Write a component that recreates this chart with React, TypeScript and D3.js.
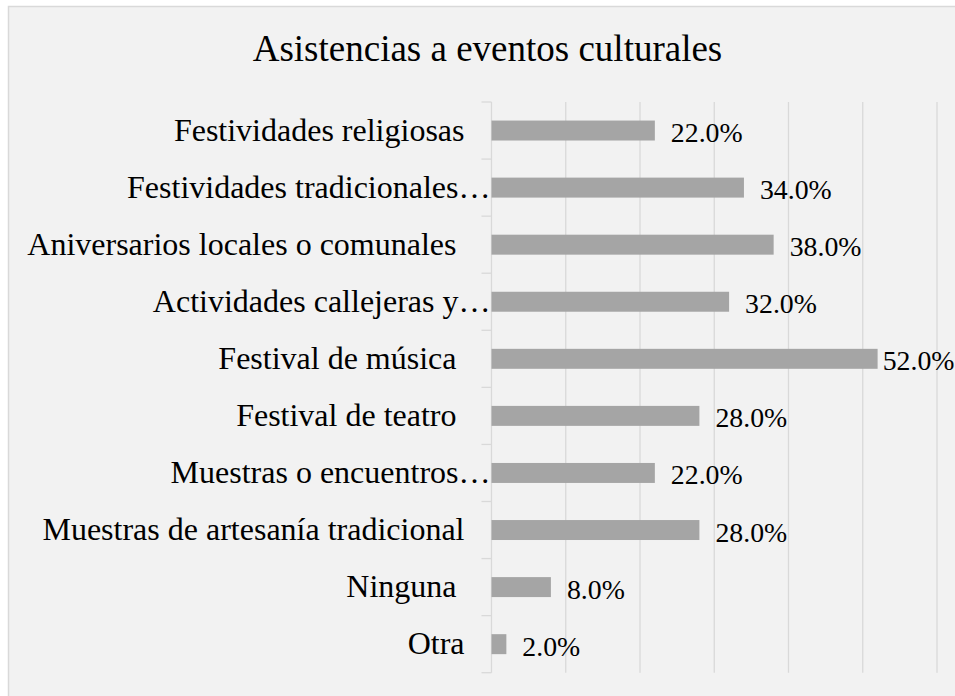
import React from "react";
import * as d3 from "d3";

const title = "Asistencias a eventos culturales";
const categories = [
  "Festividades religiosas",
  "Festividades tradicionales…",
  "Aniversarios locales o comunales ",
  "Actividades callejeras y…",
  "Festival de música ",
  "Festival de teatro ",
  "Muestras o encuentros…",
  "Muestras de artesanía tradicional",
  "Ninguna ",
  "Otra",
];
const values = [22, 34, 38, 32, 52, 28, 22, 28, 8, 2];
const gridTicks = [0, 10, 20, 30, 40, 50, 60];

export default function App() {
  const W = 955;
  const H = 696;
  const plotLeft = 491.5;
  const plotRight = 937;
  const plotTop = 102;
  const plotBottom = 672.7;
  const x = d3.scaleLinear().domain([0, 60]).range([plotLeft, plotRight]);
  const y = d3
    .scaleBand<string>()
    .domain(categories)
    .range([plotTop, plotBottom])
    .paddingInner(0.65)
    .paddingOuter(0.325);
  const step = (plotBottom - plotTop) / categories.length;
  const catFont = 32;
  const valFont = 27.8;
  const font = "'Liberation Serif', 'Times New Roman', serif";
  return (
    <svg
      width={W}
      height={H}
      style={{ position: "absolute", left: 0, top: 0 }}
      fontFamily={font}
    >
      <rect x={0} y={0} width={W} height={H} fill="#ffffff" />
      <rect
        x={8.5}
        y={6.5}
        width={970}
        height={720}
        fill="#f2f2f2"
        stroke="#d9d9d9"
        strokeWidth={1.5}
      />
      <text
        x={487.5}
        y={61}
        textAnchor="middle"
        fontSize={37}
        fill="#000"
      >
        {title}
      </text>
      {gridTicks.slice(1).map((t) => (
        <line
          key={t}
          x1={x(t)}
          x2={x(t)}
          y1={plotTop}
          y2={plotBottom}
          stroke="#d9d9d9"
          strokeWidth={1.3}
        />
      ))}
      <line
        x1={plotLeft}
        x2={plotLeft}
        y1={plotTop}
        y2={plotBottom}
        stroke="#d9d9d9"
        strokeWidth={1.3}
      />
      {d3.range(categories.length + 1).map((i) => (
        <line
          key={i}
          x1={plotLeft - 10}
          x2={plotLeft}
          y1={plotTop + i * step}
          y2={plotTop + i * step}
          stroke="#d9d9d9"
          strokeWidth={1.3}
        />
      ))}
      {categories.map((c, i) => {
        const by = y(c)!;
        const bw = y.bandwidth();
        const cy = by + bw / 2;
        const xe = x(values[i]);
        const label = values[i].toFixed(1) + "%";
        const estW = label.length * 0.52 * valFont;
        const lx = Math.min(xe + 16, W - estW);
        const truncated = c.endsWith("…");
        return (
          <g key={c}>
            <rect
              x={x(0)}
              y={by}
              width={xe - x(0)}
              height={bw}
              fill="#a5a5a5"
            />
            <text
              x={truncated ? plotLeft - 1 : plotLeft - 27}
              y={cy + 10}
              textAnchor="end"
              fontSize={catFont}
              fill="#000"
              style={{ whiteSpace: "pre" }}
            >
              {c}
            </text>
            <text x={lx} y={cy + 11.5} fontSize={valFont} fill="#000">
              {label}
            </text>
          </g>
        );
      })}
    </svg>
  );
}
